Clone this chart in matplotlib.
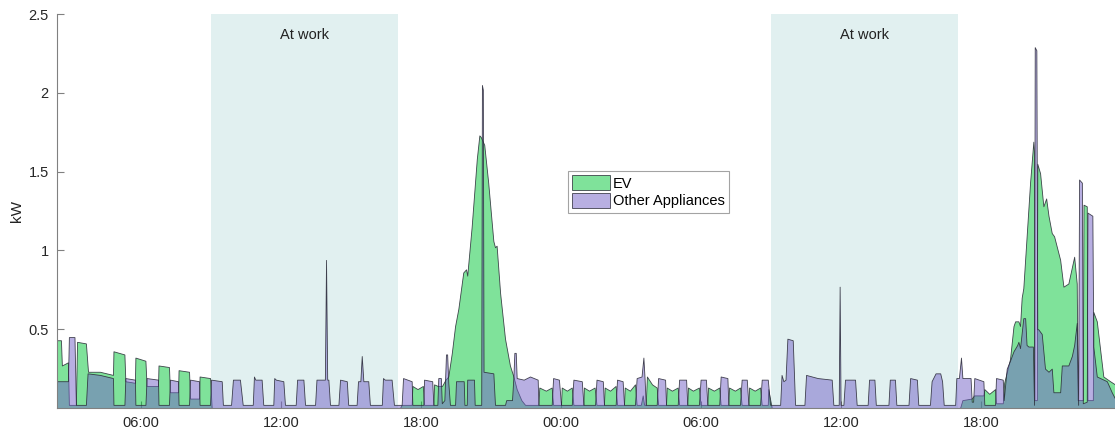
import numpy as np
import matplotlib
matplotlib.use("Agg")
import matplotlib.pyplot as plt

plt.rcParams['font.family'] = ['Liberation Sans', 'DejaVu Sans']

# (hour since day-1 midnight, kW)
ev_night1 = [(2.40, 0.43), (2.57, 0.43), (2.61, 0.27), (2.87, 0.29), (2.91, 0.02), (3.21, 0.02),
             (3.26, 0.42), (3.64, 0.41), (3.73, 0.23), (4.24, 0.23), (4.80, 0.21), (4.82, 0.36),
             (5.29, 0.34), (5.33, 0.17), (5.74, 0.16), (5.76, 0.32), (6.19, 0.30), (6.24, 0.14),
             (6.73, 0.14), (6.75, 0.27), (7.20, 0.26), (7.24, 0.10), (7.59, 0.10), (7.61, 0.24),
             (8.06, 0.23), (8.10, 0.06), (8.49, 0.06), (8.51, 0.20), (8.96, 0.19), (9.03, 0.0)]
ev_evening1 = [(17.10, 0.0), (17.17, 0.02), (17.60, 0.02), (17.63, 0.14), (17.85, 0.12), (18.08, 0.14),
               (18.13, 0.02), (18.53, 0.02), (18.56, 0.15), (18.72, 0.14), (18.90, 0.14), (19.05, 0.18),
               (19.17, 0.20), (19.32, 0.35), (19.46, 0.52), (19.60, 0.63), (19.81, 0.86), (19.93, 0.88),
               (19.98, 0.84), (20.17, 1.15), (20.39, 1.58), (20.50, 1.73), (20.56, 1.72), (20.71, 1.67),
               (20.88, 1.43), (21.10, 1.06), (21.17, 1.02), (21.24, 1.03), (21.39, 0.73), (21.60, 0.44),
               (21.81, 0.27), (21.96, 0.20), (22.10, 0.12), (22.30, 0.05), (22.46, 0.02), (23.03, 0.02),
               (23.07, 0.13), (23.35, 0.11), (23.60, 0.13), (23.66, 0.02), (24.00, 0.02), (24.03, 0.13),
               (24.25, 0.11), (24.46, 0.13), (24.53, 0.02)]
ev_night2 = [(24.96, 0.02), (24.98, 0.13), (25.20, 0.11), (25.44, 0.13), (25.52, 0.02), (25.84, 0.02),
             (25.87, 0.13), (26.10, 0.11), (26.34, 0.14), (26.40, 0.02), (26.70, 0.02), (26.73, 0.13),
             (26.95, 0.11), (27.17, 0.15), (27.24, 0.02), (27.42, 0.02), (27.50, 0.08), (27.56, 0.02),
             (27.63, 0.02), (27.68, 0.20), (27.90, 0.15), (28.10, 0.13), (28.16, 0.02), (28.50, 0.02),
             (28.53, 0.13), (28.75, 0.11), (29.00, 0.13), (29.06, 0.02), (29.41, 0.02), (29.44, 0.13),
             (29.65, 0.11), (29.91, 0.13), (29.98, 0.02), (30.27, 0.02), (30.30, 0.13), (30.55, 0.11),
             (30.78, 0.13), (30.84, 0.02), (31.17, 0.02), (31.20, 0.13), (31.45, 0.11), (31.67, 0.13),
             (31.74, 0.02), (32.03, 0.02), (32.06, 0.13), (32.30, 0.11), (32.53, 0.13), (32.60, 0.02),
             (32.86, 0.02), (32.88, 0.12), (33.03, 0.0)]
ev_evening2 = [(41.10, 0.0), (41.20, 0.05), (41.60, 0.06), (41.70, 0.08), (42.10, 0.08), (42.14, 0.12),
               (42.35, 0.09), (42.60, 0.12), (42.64, 0.03), (42.93, 0.03), (42.99, 0.16), (43.24, 0.31),
               (43.39, 0.52), (43.46, 0.55), (43.60, 0.55), (43.67, 0.52), (43.74, 0.70), (43.81, 0.76),
               (44.10, 1.43), (44.24, 1.69), (44.27, 1.62), (44.29, 0.05), (44.39, 0.05), (44.41, 1.55),
               (44.53, 1.49), (44.67, 1.28), (44.79, 1.33), (44.89, 1.22), (45.03, 1.11), (45.13, 1.09),
               (45.39, 0.94), (45.53, 0.77), (45.74, 0.79), (45.99, 0.96), (46.10, 0.79), (46.14, 0.05),
               (46.36, 0.05), (46.39, 1.29), (46.53, 1.28), (46.56, 0.05), (46.79, 0.05), (46.81, 0.61),
               (46.96, 0.55), (47.24, 0.20), (47.53, 0.17), (47.74, 0.15)]

other_night1 = [(2.40, 0.17), (2.87, 0.17), (2.91, 0.45), (3.15, 0.45), (3.21, 0.02), (3.64, 0.02),
                (3.71, 0.22), (4.24, 0.21), (4.80, 0.19), (4.82, 0.02), (5.29, 0.02), (5.33, 0.19),
                (5.74, 0.18), (5.76, 0.02), (6.19, 0.02), (6.24, 0.19), (6.73, 0.18), (6.75, 0.02),
                (7.20, 0.02), (7.24, 0.18), (7.59, 0.17), (7.61, 0.02), (8.06, 0.02), (8.10, 0.18),
                (8.49, 0.17), (8.51, 0.02), (8.96, 0.02), (9.00, 0.18), (9.46, 0.17), (9.51, 0.02)]
other_work1 = [(9.86, 0.02), (9.94, 0.18), (10.24, 0.18), (10.36, 0.02), (10.79, 0.02), (10.84, 0.20),
               (10.90, 0.18), (11.17, 0.18), (11.24, 0.02), (11.67, 0.02), (11.71, 0.19), (11.78, 0.18),
               (12.10, 0.17), (12.17, 0.02), (12.63, 0.02), (12.69, 0.18), (12.96, 0.18), (13.03, 0.02),
               (13.46, 0.02), (13.52, 0.18), (13.88, 0.18), (13.93, 0.94), (13.98, 0.18), (14.03, 0.18),
               (14.10, 0.02), (14.46, 0.02), (14.53, 0.18), (14.82, 0.17), (14.88, 0.02), (15.24, 0.02),
               (15.30, 0.17), (15.40, 0.17), (15.46, 0.33), (15.53, 0.17), (15.74, 0.17), (15.81, 0.02),
               (16.32, 0.02), (16.37, 0.19), (16.45, 0.18), (16.74, 0.18), (16.84, 0.02), (17.17, 0.02),
               (17.23, 0.19), (17.60, 0.17), (17.63, 0.02)]
other_evening1 = [(18.10, 0.02), (18.13, 0.18), (18.48, 0.17), (18.53, 0.02), (18.70, 0.02), (18.74, 0.19),
                  (18.85, 0.19), (18.89, 0.03), (19.00, 0.05), (19.07, 0.34), (19.12, 0.34), (19.17, 0.16),
                  (19.24, 0.02), (19.46, 0.02), (19.50, 0.17), (19.83, 0.17), (19.86, 0.02), (19.96, 0.02),
                  (19.98, 0.18), (20.27, 0.18), (20.30, 0.02), (20.58, 0.02), (20.61, 2.05), (20.65, 2.02),
                  (20.68, 0.23), (21.10, 0.22), (21.17, 0.02), (21.60, 0.02), (21.65, 0.05), (21.90, 0.05),
                  (21.96, 0.20), (22.00, 0.35), (22.06, 0.35), (22.10, 0.19), (22.40, 0.18), (22.67, 0.20),
                  (23.00, 0.18), (23.03, 0.02), (23.60, 0.02), (23.66, 0.19), (23.91, 0.18), (24.00, 0.02)]
other_night2 = [(24.46, 0.02), (24.53, 0.18), (24.89, 0.17), (24.96, 0.02), (25.46, 0.02), (25.52, 0.18),
                (25.79, 0.17), (25.84, 0.02), (26.34, 0.02), (26.40, 0.18), (26.64, 0.17), (26.70, 0.02),
                (27.17, 0.02), (27.24, 0.19), (27.45, 0.20), (27.53, 0.32), (27.58, 0.19), (27.63, 0.02),
                (28.10, 0.02), (28.16, 0.19), (28.46, 0.18), (28.50, 0.02), (29.00, 0.02), (29.06, 0.18),
                (29.36, 0.18), (29.41, 0.02), (29.91, 0.02), (29.98, 0.18), (30.21, 0.18), (30.27, 0.02),
                (30.78, 0.02), (30.84, 0.20), (31.13, 0.19), (31.17, 0.02), (31.67, 0.02), (31.74, 0.18),
                (31.96, 0.18), (32.03, 0.02), (32.53, 0.02), (32.60, 0.18), (32.86, 0.18), (32.96, 0.02)]
other_work2 = [(33.39, 0.02), (33.45, 0.21), (33.53, 0.17), (33.62, 0.18), (33.70, 0.44), (33.93, 0.43),
               (34.03, 0.02), (34.43, 0.02), (34.50, 0.21), (35.00, 0.19), (35.60, 0.18), (35.67, 0.02),
               (35.90, 0.02), (35.94, 0.77), (35.98, 0.02), (36.10, 0.02), (36.17, 0.18), (36.60, 0.18),
               (36.67, 0.02), (37.14, 0.02), (37.20, 0.18), (37.43, 0.18), (37.49, 0.02), (38.03, 0.02),
               (38.09, 0.18), (38.31, 0.18), (38.37, 0.02), (38.89, 0.02), (38.96, 0.19), (39.25, 0.18),
               (39.31, 0.02), (39.81, 0.02), (39.88, 0.17), (40.05, 0.22), (40.25, 0.22), (40.33, 0.17),
               (40.40, 0.02)]
other_evening2 = [(40.89, 0.02), (40.94, 0.19), (41.05, 0.19), (41.14, 0.32), (41.20, 0.19), (41.55, 0.19),
                  (41.60, 0.04), (41.66, 0.04), (41.71, 0.19), (42.10, 0.17), (42.14, 0.02), (42.60, 0.02),
                  (42.64, 0.19), (42.93, 0.18), (42.97, 0.05), (43.10, 0.25), (43.24, 0.30), (43.39, 0.36),
                  (43.55, 0.40), (43.60, 0.42), (43.67, 0.38), (43.81, 0.57), (43.89, 0.57), (43.95, 0.40),
                  (44.03, 0.39), (44.22, 0.39), (44.27, 0.02), (44.30, 2.29), (44.37, 2.27), (44.41, 0.50),
                  (44.45, 0.50), (44.60, 0.47), (44.74, 0.25), (44.89, 0.23), (45.03, 0.25), (45.10, 0.10),
                  (45.39, 0.10), (45.46, 0.27), (45.74, 0.27), (45.89, 0.33), (45.99, 0.40), (46.10, 0.54),
                  (46.16, 0.02), (46.20, 1.45), (46.32, 1.43), (46.36, 0.03), (46.53, 0.04), (46.56, 1.24),
                  (46.77, 1.22), (46.81, 0.39), (46.96, 0.20), (47.39, 0.17), (47.60, 0.10), (47.74, 0.06)]

work_periods = [(9, 17), (33, 41)]
tick_hours = [6, 12, 18, 24, 30, 36, 42]
tick_labels = ['06:00', '12:00', '18:00', '00:00', '06:00', '12:00', '18:00']

ev = np.array(ev_night1 + ev_evening1 + ev_night2 + ev_evening2)
other = np.array(other_night1 + other_work1 + other_evening1 + other_night2 + other_work2 + other_evening2)

fig = plt.figure(figsize=(11.15, 4.34), dpi=100)
ax = fig.add_axes([0.0511, 0.0599, 0.9489, 0.9078])

for start, end in work_periods:
    ax.axvspan(start, end, color='#e1f0f0', lw=0, zorder=0)
    ax.text((start + end) / 2, 2.37, 'At work', ha='center', va='center', fontsize=10.5, color='#222222')

edge = (0.15, 0.15, 0.2, 0.85)
ax.fill_between(ev[:, 0], ev[:, 1], 0, facecolor=(0.0, 0.78, 0.21, 0.5), edgecolor=edge,
                lw=0.6, label='EV', zorder=2)
ax.fill_between(other[:, 0], other[:, 1], 0, facecolor=(0.45, 0.38, 0.78, 0.5), edgecolor=edge,
                lw=0.6, label='Other Appliances', zorder=3)

ax.set_xlim(2.40, 47.74)
ax.set_ylim(0, 2.5)
ax.set_xticks(tick_hours)
ax.set_xticklabels(tick_labels)
ax.set_yticks([0.5, 1, 1.5, 2, 2.5])
ax.set_yticklabels(['0.5', '1', '1.5', '2', '2.5'])
ax.set_ylabel('kW', fontsize=11, color='#222222', labelpad=3)

for side in ['top', 'right']:
    ax.spines[side].set_visible(False)
for side in ['left', 'bottom']:
    ax.spines[side].set_color('#808080')
    ax.spines[side].set_linewidth(0.8)
    ax.spines[side].set_zorder(5)
ax.tick_params(direction='in', length=5, width=0.8, color='#808080', labelsize=10.5,
               labelcolor='#262626', pad=6)

leg = ax.legend(loc='upper left', bbox_to_anchor=(0.483, 0.6015), fontsize=10.5, frameon=True,
                fancybox=False, edgecolor='#8c8c8c', borderpad=0.3, labelspacing=0.15,
                handlelength=2.6, handleheight=1.2, handletextpad=0.2, borderaxespad=0)
leg.get_frame().set_linewidth(0.8)

fig.savefig('out.png', dpi=100)
